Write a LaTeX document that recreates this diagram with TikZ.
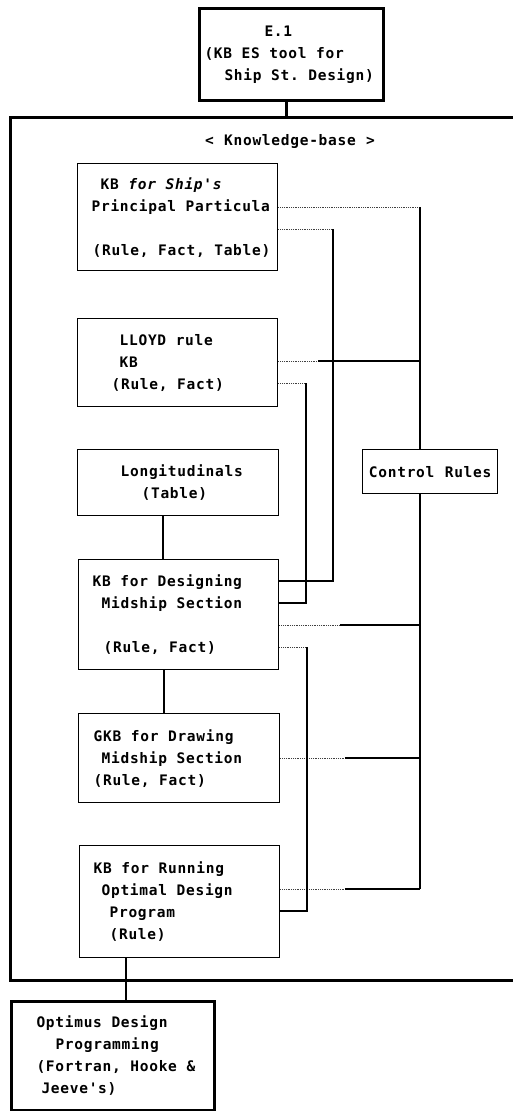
\documentclass[tikz,border=0pt]{standalone}
\usepackage{fontspec}
\newfontfamily\dfont[LetterSpace=5,WordSpace={1.1,0,0}]{DejaVu Sans Mono}
\begin{document}
\begin{tikzpicture}[x=1pt,y=-1pt,
  txt/.style={font={\dfont\bfseries\fontsize{14.5}{22}\selectfont}},
  kbox/.style 2 args={draw, line width=1.3pt, rectangle, inner sep=0pt, align=left,
    anchor=north west, text width=#1, minimum height=#2, txt,
    execute at begin node={\spaceskip=0.66em\relax\xspaceskip=0.66em\relax}},
  sol/.style={line width=1.2pt},
  dotl/.style={line width=0.7pt, dash pattern=on 1pt off 0.8pt, black!75},
  thk/.style={line width=3pt}]
\useasboundingbox (0,0) rectangle (512,1111);

% frame
\node[draw, thk, inner sep=0pt, minimum width=507pt, minimum height=863pt, anchor=north west] (kb) at (9,116) {};
\node[txt] (kbl) at (290,141) {< Knowledge-base >};

% boxes
\node[kbox={184pt}{92pt}, thk] (top) at (198,7)
  {\hspace*{65pt}E.1\\\hspace*{5pt}(KB ES tool for\\\hspace*{25pt}Ship St. Design)};
\node[kbox={200pt}{107pt}] (b1) at (77,163)
  {\hspace*{23pt}KB \textit{for Ship's}\\\hspace*{14pt}Principal Particula\\[22pt]\hspace*{15pt}(Rule, Fact, Table)};
\node[kbox={200pt}{88pt}] (b2) at (77,318)
  {\hspace*{42pt}LLOYD rule\\\hspace*{42pt}KB\\\hspace*{34pt}(Rule, Fact)};
\node[kbox={201pt}{66pt}] (b3) at (77,449)
  {\hspace*{43pt}Longitudinals\\\hspace*{64pt}(Table)};
\node[kbox={200pt}{110pt}] (b4) at (78,559)
  {\hspace*{14pt}KB for Designing\\\hspace*{23pt}Midship Section\\[22pt]\hspace*{25pt}(Rule, Fact)};
\node[kbox={201pt}{89pt}] (b5) at (78,713)
  {\hspace*{15pt}GKB for Drawing\\\hspace*{23pt}Midship Section\\\hspace*{15pt}(Rule, Fact)};
\node[kbox={200pt}{112pt}] (b6) at (79,845)
  {\hspace*{14pt}KB for Running\\\hspace*{22pt}Optimal Design\\\hspace*{30pt}Program\\\hspace*{30pt}(Rule)};
\node[kbox={203pt}{109pt}, thk] (b7) at (10,1000)
  {\hspace*{25pt}Optimus Design\\\hspace*{44pt}Programming\\\hspace*{25pt}(Fortran, Hooke \&\\\hspace*{30pt}Jeeve's)};
\node[draw, line width=1.3pt, inner sep=0pt, minimum width=135pt, minimum height=44pt, anchor=north west, txt] (cr) at (362,449) {Control Rules};

% vertical links between stacked boxes
\coordinate (v0) at (286,0);
\coordinate (v1) at (163,0);
\coordinate (v2) at (164,0);
\coordinate (v3) at (126,0);
\draw[thk] (top.south -| v0) -- (kb.north -| v0);
\draw[sol] (b3.south -| v1) -- (b4.north -| v1);
\draw[sol] (b4.south -| v2) -- (b5.north -| v2);
\draw[sol] (b6.south -| v3) -- (b7.north -| v3);

% control rules bus
\coordinate (k1) at (420,207);
\coordinate (m2) at (318,361); \coordinate (j2) at (420,361);
\coordinate (m3) at (340,625); \coordinate (j3) at (420,625);
\coordinate (m4) at (345,758); \coordinate (j4) at (420,758);
\coordinate (m5) at (345,889); \coordinate (k5) at (420,889);
\draw[dotl] (b1.east |- k1) -- (k1);
\draw[sol] (k1) -- (cr.north -| k1);
\draw[sol] (cr.south -| k5) -- (k5);
\draw[dotl] (b2.east |- m2) -- (m2);
\draw[sol] (m2) -- (j2);
\draw[dotl] (b4.east |- m3) -- (m3);
\draw[sol] (m3) -- (j3);
\draw[dotl] (b5.east |- m4) -- (m4);
\draw[sol] (m4) -- (j4);
\draw[dotl] (b6.east |- m5) -- (m5);
\draw[sol] (m5) -- (k5);

% loops
\coordinate (a1) at (333,229); \coordinate (a2) at (333,581);
\draw[dotl] (b1.east |- a1) -- (a1);
\draw[sol] (a1) -- (a2) -- (b4.east |- a2);
\coordinate (p1) at (306,383); \coordinate (p2) at (306,603);
\draw[dotl] (b2.east |- p1) -- (p1);
\draw[sol] (p1) -- (p2) -- (b4.east |- p2);
\coordinate (q1) at (307,647); \coordinate (q2) at (307,911);
\draw[dotl] (b4.east |- q1) -- (q1);
\draw[sol] (q1) -- (q2) -- (b6.east |- q2);
\end{tikzpicture}
\end{document}
